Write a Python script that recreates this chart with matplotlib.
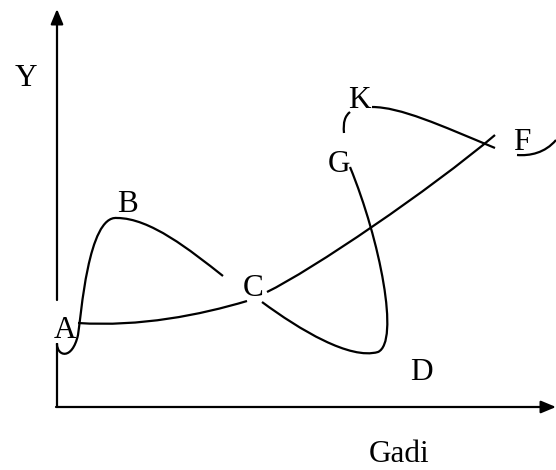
import matplotlib
matplotlib.use("Agg")
import matplotlib.pyplot as plt
from matplotlib.path import Path
from matplotlib.patches import PathPatch

# ---- data (diagram coordinates, pixel-like units, y grows downward) ----
# cubic Bezier control points: P0, C1, C2, P1, C1, C2, P2, ...
curve_abc_x = [57, 57, 72, 78, 81, 88, 117, 150, 190, 223]
curve_abc_y = [344, 356, 361, 335, 317, 215, 218, 218, 250, 276]

curve_ac_x = [78, 140, 200, 247]
curve_ac_y = [323, 327, 315, 301]

curve_cf_x = [267, 312, 430, 495]
curve_cf_y = [292, 270, 190, 135]

curve_cdg_x = [262, 300, 350, 378, 400, 380, 350]
curve_cdg_y = [302, 330, 360, 352, 342, 240, 167]

curve_k_x = [344, 343, 345, 350]
curve_k_y = [133, 122, 116, 112]

curve_kf_x = [372, 400, 440, 495]
curve_kf_y = [107, 107, 125, 148]

curve_fhook_x = [517, 530, 545, 556]
curve_fhook_y = [155, 156, 153, 140]

point_labels = ["Y", "B", "A", "C", "K", "G", "F", "D", "Gadi"]
label_x = [26, 127, 65, 253, 359, 339, 522, 421, 399]
label_y = [78, 205, 331, 288, 100, 164, 142, 373, 455]

W, H = 556, 470
fig = plt.figure(figsize=(W / 100, H / 100), dpi=100)
ax = fig.add_axes([0, 0, 1, 1])
ax.set_xlim(0, W)
ax.set_ylim(H, 0)
ax.axis("off")


def bezier(xs, ys, lw=1.6):
    verts = list(zip(xs, ys))
    codes = [Path.MOVETO] + [Path.CURVE4] * (len(verts) - 1)
    ax.add_patch(PathPatch(Path(verts, codes), facecolor="none",
                           edgecolor="black", lw=lw, capstyle="butt"))


for cx, cy in [(curve_abc_x, curve_abc_y), (curve_ac_x, curve_ac_y),
               (curve_cf_x, curve_cf_y), (curve_cdg_x, curve_cdg_y),
               (curve_k_x, curve_k_y), (curve_kf_x, curve_kf_y),
               (curve_fhook_x, curve_fhook_y)]:
    bezier(cx, cy)

# axes lines
axis_x0, axis_y0 = 57, 407
ax.plot([axis_x0, axis_x0], [axis_y0, 343], color="black", lw=1.6,
        solid_capstyle="butt")
arrow = dict(arrowstyle="-|>,head_length=0.6,head_width=0.25",
             mutation_scale=15, lw=1.6, color="black",
             shrinkA=0, shrinkB=0)
ax.annotate("", xy=(axis_x0, 9), xytext=(axis_x0, 300), arrowprops=arrow)
ax.annotate("", xy=(556, axis_y0), xytext=(axis_x0 - 1, axis_y0),
            arrowprops=arrow)

for t, x, y in zip(point_labels, label_x, label_y):
    ax.text(x, y, t, fontsize=22.5, family="Liberation Serif",
            ha="center", va="center")

fig.savefig("out.png", dpi=100)
